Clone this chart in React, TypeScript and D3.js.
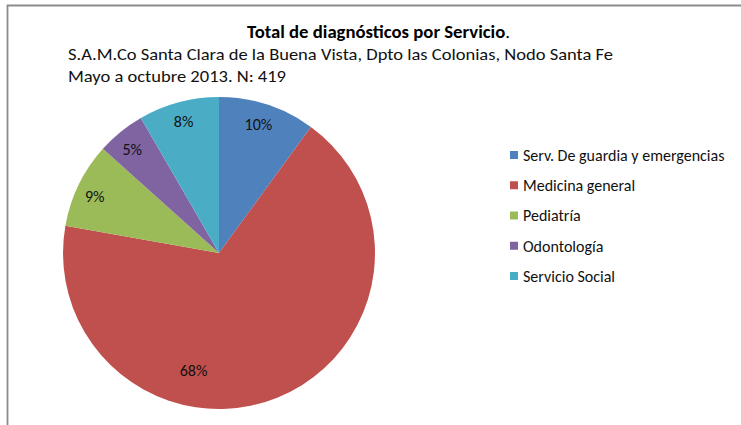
import { useEffect, useRef } from "react";
import * as d3 from "d3";

// datos del gráfico (N = 419)
const services = [
  "Serv. De guardia y emergencias",
  "Medicina general",
  "Pediatría",
  "Odontología",
  "Servicio Social",
];
const counts = [42, 284, 37, 21, 35];
const colors = ["#4F81BD", "#C0504D", "#9BBB59", "#8064A2", "#4BACC6"];

// posición de etiquetas (fracción del ángulo del sector y del radio)
const labelAngleFrac = [0.47, 0.64, 0.45, 0.45, 0.5];
const labelRadiusFrac = [0.865, 0.77, 0.875, 0.865, 0.875];

const titleText = "Total de diagnósticos por Servicio";
const subtitleLines = [
  "S.A.M.Co Santa Clara de la Buena Vista, Dpto las Colonias, Nodo Santa Fe",
  "Mayo a octubre 2013. N: 419",
];

const FONT = "Calibri, Carlito, Lato, 'Liberation Sans', sans-serif";

const PieChart = () => {
  const svgRef = useRef<SVGSVGElement>(null);

  useEffect(() => {
    if (!svgRef.current) return;
    const svg = d3.select(svgRef.current);
    svg.selectAll("*").remove();

    const width = 741;
    const height = 425;
    svg.attr("width", width).attr("height", height).style("font-family", FONT);

    // marco del área del gráfico
    svg
      .append("path")
      .attr("d", `M7.5,${height} V5.5 H${width}`)
      .attr("fill", "none")
      .attr("stroke", "#8c8c8c")
      .attr("stroke-width", 1.8);

    // título
    const title = svg
      .append("text")
      .attr("x", 247)
      .attr("y", 38)
      .attr("font-size", 17)
      .attr("fill", "#000")
      .attr("textLength", 263)
      .attr("lengthAdjust", "spacingAndGlyphs");
    title.append("tspan").attr("font-weight", "bold").text(titleText);
    title.append("tspan").text(".");

    const subLen = [545, 218];
    subtitleLines.forEach((line, i) => {
      svg
        .append("text")
        .attr("x", 68)
        .attr("y", 60 + i * 22)
        .attr("font-size", 16)
        .attr("fill", "#111")
        .attr("textLength", subLen[i])
        .attr("lengthAdjust", "spacingAndGlyphs")
        .text(line);
    });

    // torta
    const cx = 219;
    const cy = 253;
    const radius = 156;
    const total = d3.sum(counts);

    const pie = d3
      .pie<number>()
      .sort(null)
      .value((d) => d);
    const arcs = pie(counts);
    const arcGen = d3.arc<d3.PieArcDatum<number>>().innerRadius(0).outerRadius(radius);

    const g = svg.append("g").attr("transform", `translate(${cx},${cy})`);

    g.selectAll(".slice")
      .data(arcs)
      .enter()
      .append("path")
      .attr("class", "slice")
      .attr("d", arcGen)
      .attr("fill", (_, i) => colors[i]);

    g.selectAll(".pct")
      .data(arcs)
      .enter()
      .append("text")
      .attr("class", "pct")
      .attr("x", (d, i) => {
        const a = d.startAngle + (d.endAngle - d.startAngle) * labelAngleFrac[i];
        return Math.sin(a) * radius * labelRadiusFrac[i];
      })
      .attr("y", (d, i) => {
        const a = d.startAngle + (d.endAngle - d.startAngle) * labelAngleFrac[i];
        return -Math.cos(a) * radius * labelRadiusFrac[i];
      })
      .attr("dy", "0.36em")
      .attr("text-anchor", "middle")
      .attr("font-size", 16)
      .attr("fill", "#111")
      .text((d) => `${Math.round((d.value / total) * 100)}%`);

    // leyenda
    const legendY = d3.scalePoint<string>().domain(services).range([155, 276]);
    const legend = svg.append("g");
    const items = legend
      .selectAll(".legend-item")
      .data(services)
      .enter()
      .append("g")
      .attr("class", "legend-item")
      .attr("transform", (d) => `translate(510, ${legendY(d)})`);

    items
      .append("rect")
      .attr("x", 0)
      .attr("y", -4)
      .attr("width", 8)
      .attr("height", 8)
      .attr("fill", (_, i) => colors[i]);

    items
      .append("text")
      .attr("x", 13)
      .attr("y", 0)
      .attr("dy", "0.36em")
      .attr("font-size", 16)
      .attr("fill", "#111")
      .text((d) => d);
  }, []);

  return (
    <svg
      ref={svgRef}
      style={{ position: "absolute", left: 0, top: 0, background: "#fff" }}
    ></svg>
  );
};

export default function App() {
  return <PieChart />;
}
